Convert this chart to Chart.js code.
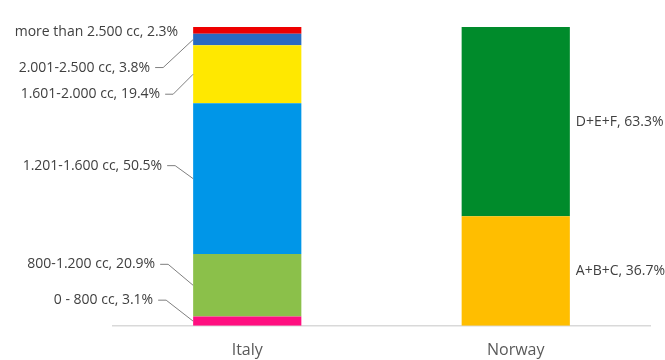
<!DOCTYPE html>
<html>
<head>
<meta charset="utf-8">
<script src="https://cdn.jsdelivr.net/npm/chart.js@4"></script>
<style>
  html, body { margin: 0; padding: 0; background: #fff; }
  #wrap { width: 665px; height: 360px; }
</style>
</head>
<body>
<div id="wrap"><canvas id="c" width="665" height="360"></canvas></div>
<script>
// 카테고리와 시리즈 값 (아래에서 위 순서)
const countries = ['Italy', 'Norway'];

const italyNames = ['0 - 800 cc', '800-1.200 cc', '1.201-1.600 cc', '1.601-2.000 cc', '2.001-2.500 cc', 'more than 2.500 cc'];
const italyValues = [3.1, 20.9, 50.5, 19.4, 3.8, 2.3];
const italyColors = ['#FF0F80', '#8BC04A', '#0096E8', '#FFE800', '#2A6AC0', '#EE0000'];

const norwayNames = ['A+B+C', 'D+E+F'];
const norwayValues = [36.7, 63.3];
const norwayColors = ['#FFBE00', '#008B2B'];

// 이탈리아 라벨 위치 (세그먼트 중심 기준 오프셋: 텍스트 오른쪽 끝 dx, 텍스트 dy, 리더선 여부)
const italyLabelPos = [
    { dx: -40, dy: -21, line: true },
    { dx: -38, dy: -21, line: true },
    { dx: -31, dy: -13, line: true },
    { dx: -33, dy: 20, line: true },
    { dx: -43, dy: 28, line: true },
    { dx: -15, dy: 2, line: false }
];

const datasets = [];
italyValues.forEach((v, i) => {
    datasets.push({
        label: italyNames[i],
        data: [v, null],
        backgroundColor: italyColors[i],
        country: 0
    });
});
norwayValues.forEach((v, i) => {
    datasets.push({
        label: norwayNames[i],
        data: [null, v],
        backgroundColor: norwayColors[i],
        country: 1
    });
});

// 데이터 라벨 + 리더선 그리기
const labelPlugin = {
    id: 'segLabels',
    afterDatasetsDraw(chart) {
        const ctx = chart.ctx;
        ctx.save();
        ctx.font = '14px "Open Sans", sans-serif';
        ctx.fillStyle = '#404040';
        ctx.textBaseline = 'middle';
        chart.data.datasets.forEach((ds, di) => {
            const idx = ds.country;
            const bar = chart.getDatasetMeta(di).data[idx];
            const midY = (bar.y + bar.base) / 2;
            const left = bar.x - bar.width / 2;
            const right = bar.x + bar.width / 2;
            const text = ds.label + ', ' + ds.data[idx].toFixed(1) + '%';
            if (idx === 0) {
                const p = italyLabelPos[di];
                const tx = left + p.dx;
                const ty = midY + p.dy;
                ctx.textAlign = 'right';
                ctx.fillText(text, tx, ty);
                if (p.line) {
                    ctx.strokeStyle = '#7F7F7F';
                    ctx.lineWidth = 1;
                    ctx.beginPath();
                    ctx.moveTo(tx + 5, ty);
                    ctx.lineTo(tx + 13, ty);
                    ctx.lineTo(left, midY);
                    ctx.stroke();
                }
            } else {
                ctx.textAlign = 'left';
                ctx.fillText(text, right + 6, midY);
            }
        });
        ctx.restore();
    }
};

new Chart(document.getElementById('c'), {
    type: 'bar',
    data: { labels: countries, datasets: datasets },
    options: {
        responsive: false,
        animation: false,
        layout: { padding: { left: 113, right: 15, top: 27, bottom: -15 } },
        plugins: { legend: { display: false }, tooltip: { enabled: false } },
        datasets: { bar: { categoryPercentage: 1, barPercentage: 0.403, skipNull: true, grouped: false } },
        scales: {
            x: {
                stacked: true,
                grid: { display: false, drawTicks: false },
                border: { color: '#D9D9D9', width: 1.5 },
                ticks: { color: '#595959', font: { family: '"Open Sans", sans-serif', size: 16 }, padding: 15 }
            },
            y: {
                stacked: true,
                display: false,
                min: 0,
                max: 100
            }
        }
    },
    plugins: [labelPlugin]
});
</script>
</body>
</html>
